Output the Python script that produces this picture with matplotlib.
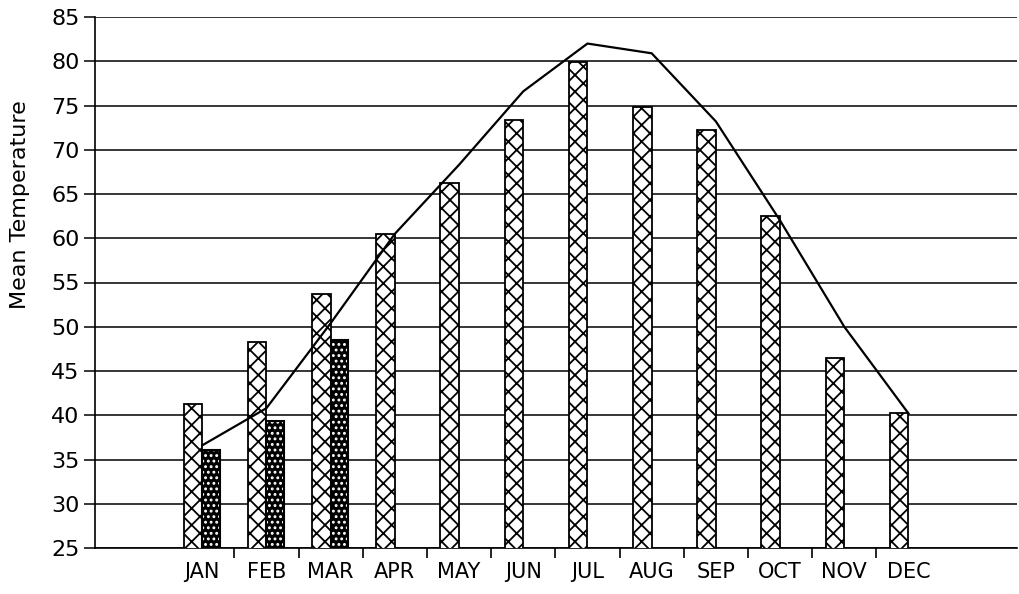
# Monthly mean temperature: bars for two series plus a normal line

import numpy as np
import matplotlib.pyplot as plt

# Data
months = ['JAN', 'FEB', 'MAR', 'APR', 'MAY', 'JUN',
          'JUL', 'AUG', 'SEP', 'OCT', 'NOV', 'DEC']
temp_cross = [41.3, 48.3, 53.7, 60.5, 66.2, 73.4, 79.9, 74.8, 72.2, 62.5, 46.5, 40.2]
temp_dark = [36.1, 39.4, 48.5]          # only the first three months
temp_line = [36.6, 40.8, 50.4, 60.5, 68.3, 76.6, 82.0, 80.9, 73.2, 62.0, 50.0, 40.2]

plt.rcParams['hatch.linewidth'] = 1.3

fig = plt.figure(figsize=(10.19, 5.94), dpi=100)
ax = fig.add_axes([95/1019, 1-548/594, (1017-95)/1019, (548-17)/594])

x = np.arange(len(months))
w = 0.29
xd = x[:len(temp_dark)]

# cross hatched bars sit just left of the month centre
ax.bar(x - w, temp_cross, width=w, align='edge', color='white',
       edgecolor='black', hatch='xx', linewidth=1.3, zorder=3)
# dark bars: black with a grid of small white dots, then a black outline
ax.bar(xd, temp_dark, width=w*0.95, align='edge', color='black',
       edgecolor='white', hatch='...', linewidth=0, zorder=3)
ax.bar(xd, temp_dark, width=w*0.95, align='edge', fill=False,
       edgecolor='black', linewidth=1.5, zorder=3)

ax.plot(x, temp_line, color='black', linewidth=1.6, zorder=4)

ax.set_ylim(25, 85)
ax.set_xlim(-1.67, 12.69)
ax.set_yticks(np.arange(25, 86, 5))
ax.yaxis.grid(True, color='black', linewidth=1.1)
ax.set_axisbelow(True)

# month labels centred on the groups, tick marks between them
ax.set_xticks(x[:-1] + 0.5)
ax.set_xticklabels([])
ax.set_xticks(x, minor=True)
ax.set_xticklabels(months, minor=True, fontsize=15)
ax.tick_params(axis='x', which='minor', length=0, pad=10)
ax.tick_params(axis='x', which='major', length=7, width=1.2, direction='out')
ax.tick_params(axis='y', length=8, width=1.1, labelsize=16, pad=3)

for s in ['top', 'right']:
    ax.spines[s].set_visible(False)
ax.spines['left'].set_linewidth(1.2)
ax.spines['bottom'].set_linewidth(1.2)

fig.text(20/1019, 1-205/594, 'Mean Temperature', rotation=90,
         ha='center', va='center', fontsize=16)

fig.savefig('out.png', dpi=100)
